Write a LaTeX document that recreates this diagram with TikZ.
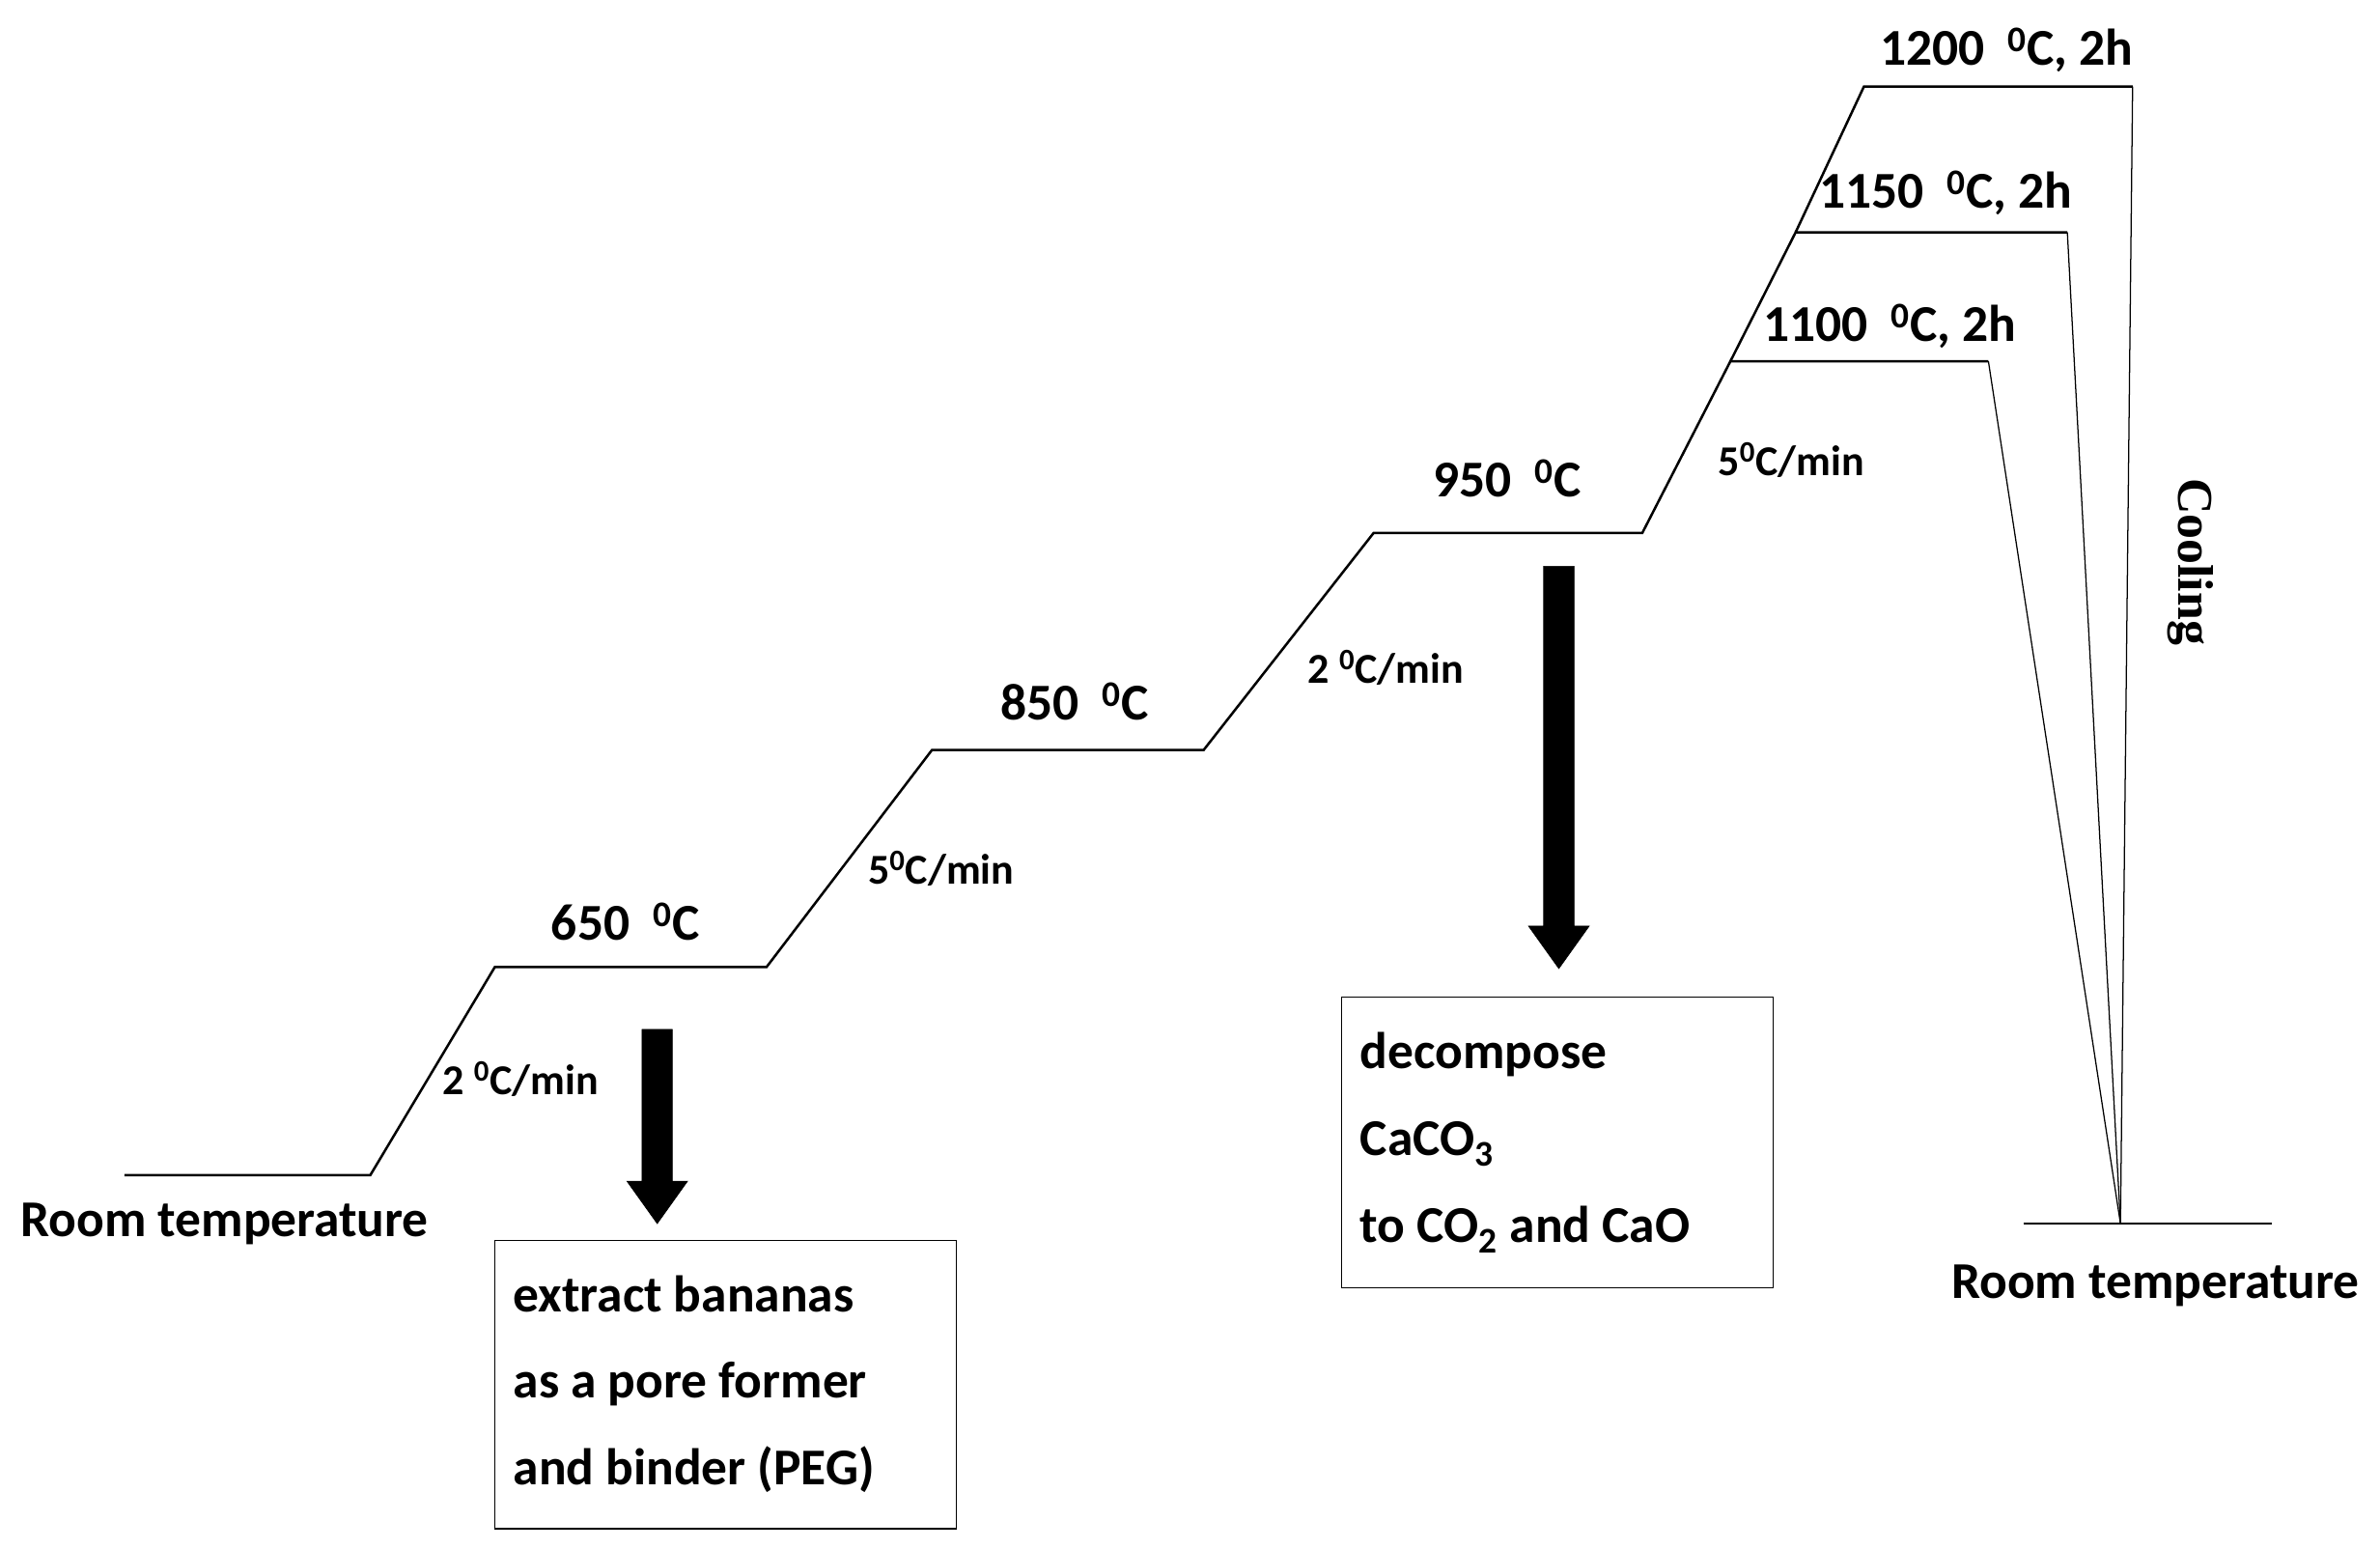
\documentclass[tikz,border=0pt]{standalone}
\usepackage{fontspec}
\setmainfont{Carlito}
\newfontfamily\serifb{Liberation Serif}
\begin{document}
\begin{tikzpicture}[x=1pt,y=-1pt,
  lbl/.style={font=\fontsize{34}{40}\selectfont\bfseries,inner sep=0},
  rate/.style={font=\fontsize{28}{32}\selectfont\bfseries,inner sep=0},
  boxtxt/.style={anchor=north west,align=left,inner sep=0,font=\fontsize{34}{57}\selectfont\bfseries},
  ln/.style={line width=1.6pt},
  thin/.style={line width=0.8pt},
  bigarrow/.style={draw=black,fill=black}]
\useasboundingbox (0,0) rectangle (1568,1020);
\coordinate (a0) at (82,774); \coordinate (a1) at (244,774);
\coordinate (a2) at (326,637); \coordinate (a3) at (505,637);
\coordinate (a4) at (614,494); \coordinate (a5) at (793,494);
\coordinate (a6) at (905,351); \coordinate (a7) at (1082,351);
\coordinate (b1) at (1140,238); \coordinate (b2) at (1310,238);
\coordinate (c1) at (1183,153); \coordinate (c2) at (1362,153);
\coordinate (d1) at (1228,57); \coordinate (d2) at (1405,57);
\coordinate (rt) at (1397,806);
\coordinate (e1) at (1333,806); \coordinate (e2) at (1497,806);
\draw[ln] (a0)--(a1)--(a2)--(a3)--(a4)--(a5)--(a6)--(a7)--(b1)--(b2);
\draw[ln] (b1)--(c1)--(c2); \draw[ln] (c1)--(d1)--(d2);
\draw[ln] (e1)--(e2);
\draw[thin] (b2)--(rt); \draw[thin] (c2)--(rt); \draw[thin] (d2)--(rt);
\node[lbl] (rt1) at (148,806) {Room temperature};
\node[lbl] (rt2) at (1420,847) {Room temperature};
\node[lbl] (t650) at (412,607) {650\ \ \textsuperscript{0}C};
\node[lbl] (t850) at (708,462) {850\ \ \textsuperscript{0}C};
\node[lbl] (t950) at (993,315) {950\ \ \textsuperscript{0}C};
\node[lbl] (t1100) at (1245,215) {1100\ \ \textsuperscript{0}C, 2h};
\node[lbl] (t1150) at (1282,127) {1150\ \ \textsuperscript{0}C, 2h};
\node[lbl] (t1200) at (1322,33) {1200\ \ \textsuperscript{0}C, 2h};
\node[rate] (r1) at (343,711) {2 \textsuperscript{0}C/min};
\node[rate] (r2) at (620,572) {5\textsuperscript{0}C/min};
\node[rate] (r3) at (913,440) {2 \textsuperscript{0}C/min};
\node[rate] (r4) at (1180,303) {5\textsuperscript{0}C/min};
\node[rotate=-90,font=\serifb\fontsize{33}{38}\selectfont\bfseries,inner sep=0] (cool) at (1443,370) {Cooling};
\draw[bigarrow] (423,678) -- (443,678) -- (443,778) -- (453,778) -- (433,806) -- (413,778) -- (423,778) -- cycle;
\draw[bigarrow] (1017,373) -- (1037,373) -- (1037,610) -- (1047,610) -- (1027,638) -- (1007,610) -- (1017,610) -- cycle;
\draw[thin] (326,817) rectangle (630,1007);
\node[boxtxt] (box1) at (338,840) {extract bananas\\as a pore former\\and binder (PEG)};
\draw[thin] (884,657) rectangle (1168,848);
\node[boxtxt] (box2) at (896,680) {decompose\\CaCO\textsubscript{3}\\to CO\textsubscript{2} and CaO};
\end{tikzpicture}
\end{document}
